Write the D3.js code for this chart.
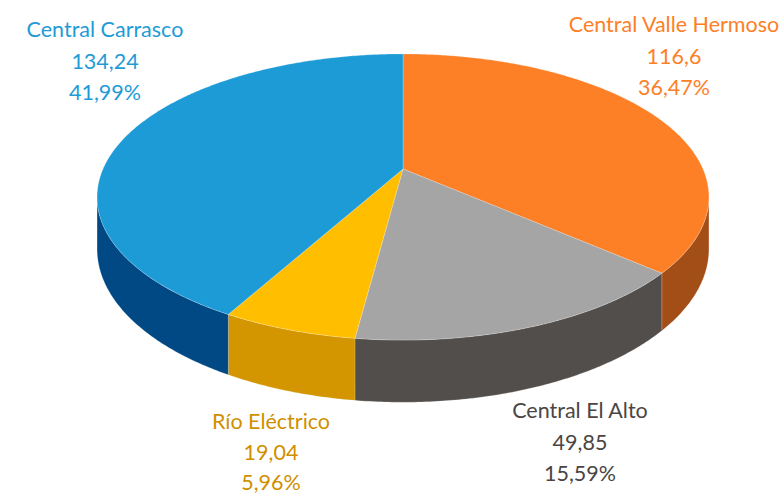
<!DOCTYPE html>
<html>
<head>
<meta charset="utf-8">
<script src="https://cdn.jsdelivr.net/npm/d3@7"></script>
<style>
  body { margin: 0; background: #fff; }
  svg { display: block; }
</style>
</head>
<body>
<svg id="chart" width="779" height="497"></svg>
<script>
// data
const categories = ["Central Valle Hermoso", "Central El Alto", "Río Eléctrico", "Central Carrasco"];
const values = [116.6, 49.85, 19.04, 134.24];
const valueLabels = ["116,6", "49,85", "19,04", "134,24"];
const percentLabels = ["36,47%", "15,59%", "5,96%", "41,99%"];

// colours
const topColors = ["#fe8026", "#a5a5a5", "#ffbf00", "#1c9bd6"];
const sideColors = ["#a34d17", "#524e4b", "#d39500", "#004985"];
const labelColors = ["#fe8026", "#4a4543", "#cf9000", "#1e9bd7"];

// label placement (centre x, first baseline, line gap)
const labelPos = [[674, 32, 31.5], [580, 418, 31.5], [271, 429, 30.5], [105, 37, 31.5]];

// 3D pie geometry
const cx = 403, cy = 169, radius = 300, depthPx = 50;
const tilt = 27.3 * Math.PI / 180, camDist = 4.54;
const sinT = Math.sin(tilt), cosT = Math.cos(tilt);

const svg = d3.select("#chart");

function persp(theta) {
    const Z = -Math.cos(theta);
    return camDist / (camDist - Z * cosT);
}
function rim(theta) {
    const X = Math.sin(theta), Z = -Math.cos(theta);
    const s = persp(theta);
    return [cx + radius * X * s, cy + radius * Z * sinT * s];
}
function rimBottom(theta) {
    const p = rim(theta);
    return [p[0], p[1] + depthPx * persp(theta)];
}

// tangent angles where the rim reaches its left / right extremes
let thR = 0, thL = 0, maxX = -1e9, minX = 1e9;
for (let t = 0; t <= 2 * Math.PI; t += 0.0005) {
    const x = rim(t)[0];
    if (x > maxX) { maxX = x; thR = t; }
    if (x < minX) { minX = x; thL = t; }
}

function arcPts(a, b, fn) {
    const n = Math.max(2, Math.ceil((b - a) / 0.01));
    return d3.range(n + 1).map(i => fn(a + (b - a) * i / n));
}

const arcs = d3.pie().sort(null).value(d => d)(values);
const line = d3.line();

// outer walls (front part only)
const walls = svg.append("g");
arcs.forEach((d, i) => {
    const a = Math.max(d.startAngle, thR), b = Math.min(d.endAngle, thL);
    if (b <= a) return;
    const pts = arcPts(a, b, rim).concat(arcPts(a, b, rimBottom).reverse());
    walls.append("path")
        .attr("d", line(pts) + "Z")
        .attr("fill", sideColors[i])
        .attr("stroke", "#ffffff")
        .attr("stroke-opacity", 0.3)
        .attr("stroke-width", 0.6);
});

// top faces
const tops = svg.append("g");
arcs.forEach((d, i) => {
    const pts = [[cx, cy]].concat(arcPts(d.startAngle, d.endAngle, rim));
    tops.append("path")
        .attr("d", line(pts) + "Z")
        .attr("fill", topColors[i])
        .attr("stroke", "#ffffff")
        .attr("stroke-opacity", 0.35)
        .attr("stroke-width", 0.6)
        .attr("stroke-linejoin", "round");
});

// labels
const labels = svg.append("g")
    .attr("font-family", "Lato, 'Open Sans', sans-serif")
    .attr("font-size", 21.5)
    .attr("text-anchor", "middle");
categories.forEach((c, i) => {
    const [lx, ly, gap] = labelPos[i];
    const t = labels.append("text").attr("fill", labelColors[i]);
    [c, valueLabels[i], percentLabels[i]].forEach((s, k) => {
        t.append("tspan").attr("x", lx).attr("y", ly + k * gap).text(s);
    });
});
</script>
</body>
</html>
